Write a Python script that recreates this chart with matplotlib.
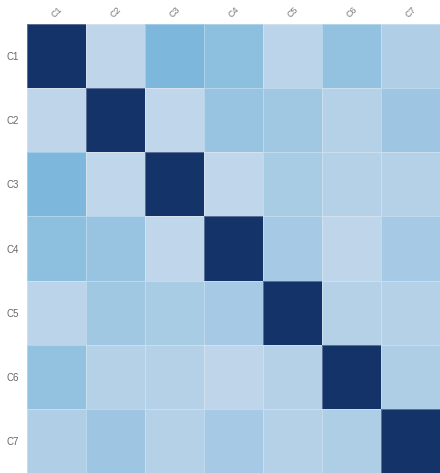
import numpy as np
import matplotlib
matplotlib.use('Agg')
import matplotlib.pyplot as plt
from matplotlib.colors import LinearSegmentedColormap

labels = ['C1', 'C2', 'C3', 'C4', 'C5', 'C6', 'C7']

# correlation-like strengths (symmetric)
row_c1 = [1.00, 0.04, 0.48, 0.37, 0.06, 0.33, 0.14]
row_c2 = [0.04, 1.00, 0.03, 0.30, 0.24, 0.11, 0.26]
row_c3 = [0.48, 0.03, 1.00, 0.03, 0.18, 0.10, 0.11]
row_c4 = [0.37, 0.30, 0.03, 1.00, 0.20, 0.04, 0.20]
row_c5 = [0.06, 0.24, 0.18, 0.20, 1.00, 0.10, 0.11]
row_c6 = [0.33, 0.11, 0.10, 0.04, 0.10, 1.00, 0.15]
row_c7 = [0.14, 0.26, 0.11, 0.20, 0.11, 0.15, 1.00]

matrix = np.array([row_c1, row_c2, row_c3, row_c4, row_c5, row_c6, row_c7])

cmap = LinearSegmentedColormap.from_list(
    'blue_scale', ['#c4d8eb', '#7ab6db', '#143369'])

plt.rcParams['font.family'] = ['Liberation Sans', 'DejaVu Sans']

fig = plt.figure(figsize=(4.4, 4.73), dpi=100)
ax = fig.add_axes([27 / 440, 0, 413 / 440, 449 / 473])

ax.pcolormesh(matrix, cmap=cmap, vmin=0, vmax=1,
              edgecolors=(1, 1, 1, 0.3), linewidth=0.5)
ax.set_xlim(0, len(labels))
ax.set_ylim(len(labels), 0)

ax.set_xticks(np.arange(len(labels)) + 0.5)
ax.set_yticks(np.arange(len(labels)) + 0.5)
ax.set_xticklabels(labels, rotation=45, ha='center', va='bottom')
ax.set_yticklabels(labels)
ax.xaxis.tick_top()
ax.tick_params(length=0, labelsize=7, labelcolor='#666666')
ax.tick_params(axis='x', pad=3, labelsize=6.5, labelcolor='#777777')
ax.tick_params(axis='y', pad=6)
for spine in ax.spines.values():
    spine.set_visible(False)

plt.savefig('out.png', dpi=100)
plt.close()
